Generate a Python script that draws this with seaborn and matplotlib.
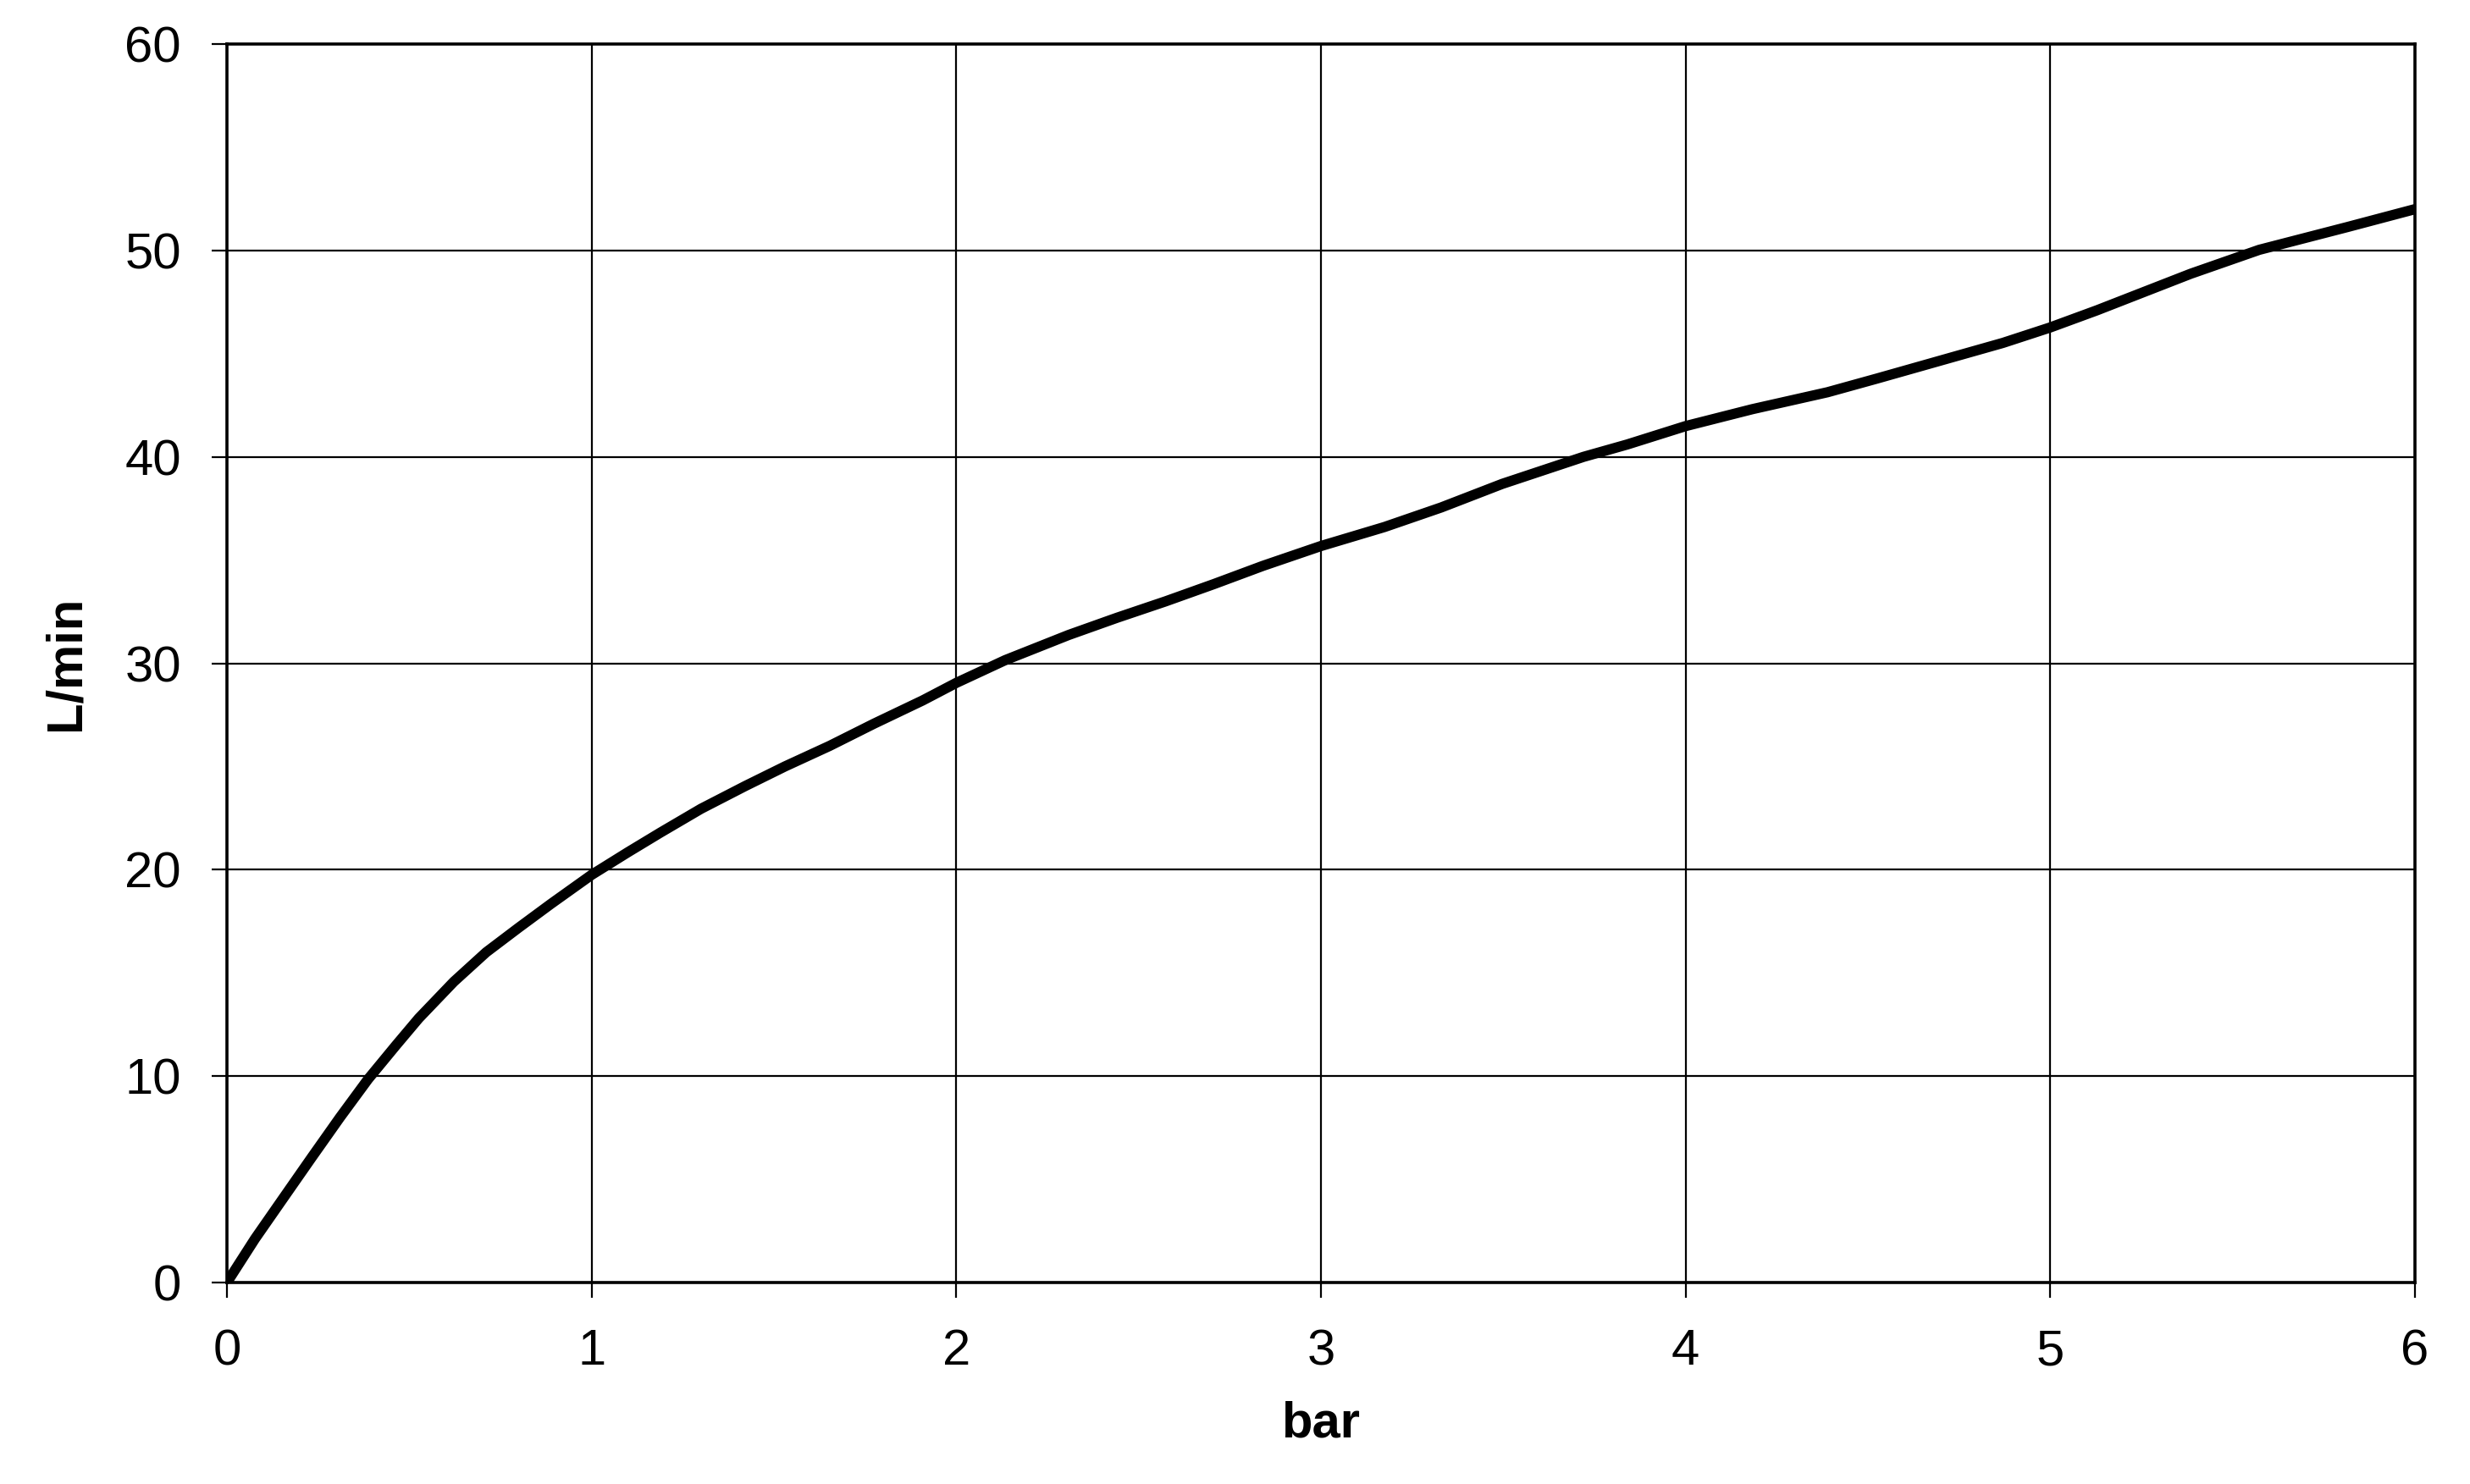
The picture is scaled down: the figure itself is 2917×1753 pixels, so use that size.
import matplotlib
matplotlib.use("Agg")
import matplotlib.pyplot as plt
import seaborn as sns
import pandas as pd

pressure_bar = [0, 0.077, 0.155, 0.232, 0.31, 0.387, 0.464, 0.526, 0.622, 0.711, 0.80,
                0.889, 1.0, 1.1, 1.189, 1.3, 1.421, 1.53, 1.653, 1.774, 1.908, 2.0,
                2.134, 2.308, 2.44, 2.574, 2.707, 2.841, 3.0, 3.174, 3.33, 3.497, 3.72,
                3.84, 4.0, 4.183, 4.389, 4.526, 4.698, 4.87, 5.0, 5.128, 5.247, 5.385,
                5.573, 5.814, 6.0]
flow_lpm = [0, 2.12, 4.1, 6.05, 8.0, 9.85, 11.5, 12.8, 14.57, 16.0, 17.19,
            18.35, 19.75, 20.85, 21.8, 22.95, 24.05, 25.0, 26.0, 27.07, 28.2, 29.05,
            30.15, 31.37, 32.2, 33.0, 33.84, 34.72, 35.68, 36.6, 37.55, 38.69, 40.0,
            40.6, 41.49, 42.31, 43.13, 43.8, 44.66, 45.52, 46.27, 47.1, 47.92, 48.87,
            50.03, 51.13, 52.0]
x_ticks = [0, 1, 2, 3, 4, 5, 6]
y_ticks = [0, 10, 20, 30, 40, 50, 60]

sns.set_style("white")
plt.rcParams['font.family'] = ['Liberation Sans', 'DejaVu Sans']
plt.rcParams['text.color'] = 'black'
plt.rcParams['axes.labelcolor'] = 'black'

df = pd.DataFrame({"bar": pressure_bar, "L/min": flow_lpm})

fig = plt.figure(figsize=(29.17, 17.53), dpi=100)
ax = fig.add_axes([268/2917, 1 - 1515/1753, (2852-268)/2917, (1515-52)/1753])

ax.set_axisbelow(True)
ax.grid(True, color="black", linewidth=1.6)
sns.lineplot(data=df, x="bar", y="L/min", ax=ax, color="black", linewidth=8.7,
             solid_capstyle="round", solid_joinstyle="round", sort=False)

ax.set_xlim(0, 6)
ax.set_ylim(0, 60)
ax.set_xticks(x_ticks)
ax.set_yticks(y_ticks)
ax.set_xticklabels([str(v) for v in x_ticks])
ax.set_yticklabels([str(v) for v in y_ticks])

for s in ax.spines.values():
    s.set_visible(True)
    s.set_color("black")
    s.set_linewidth(2.6)

ax.tick_params(axis="both", direction="out", length=13, width=1.6, color="black",
               labelsize=43, labelcolor="black", pad=26, bottom=True, left=True)
ax.set_xlabel("bar", fontsize=43, fontweight="bold", labelpad=22, color="black")
ax.set_ylabel("L/min", fontsize=43, fontweight="bold", labelpad=30, color="black")

fig.savefig("out.png", dpi=100, facecolor="white")
